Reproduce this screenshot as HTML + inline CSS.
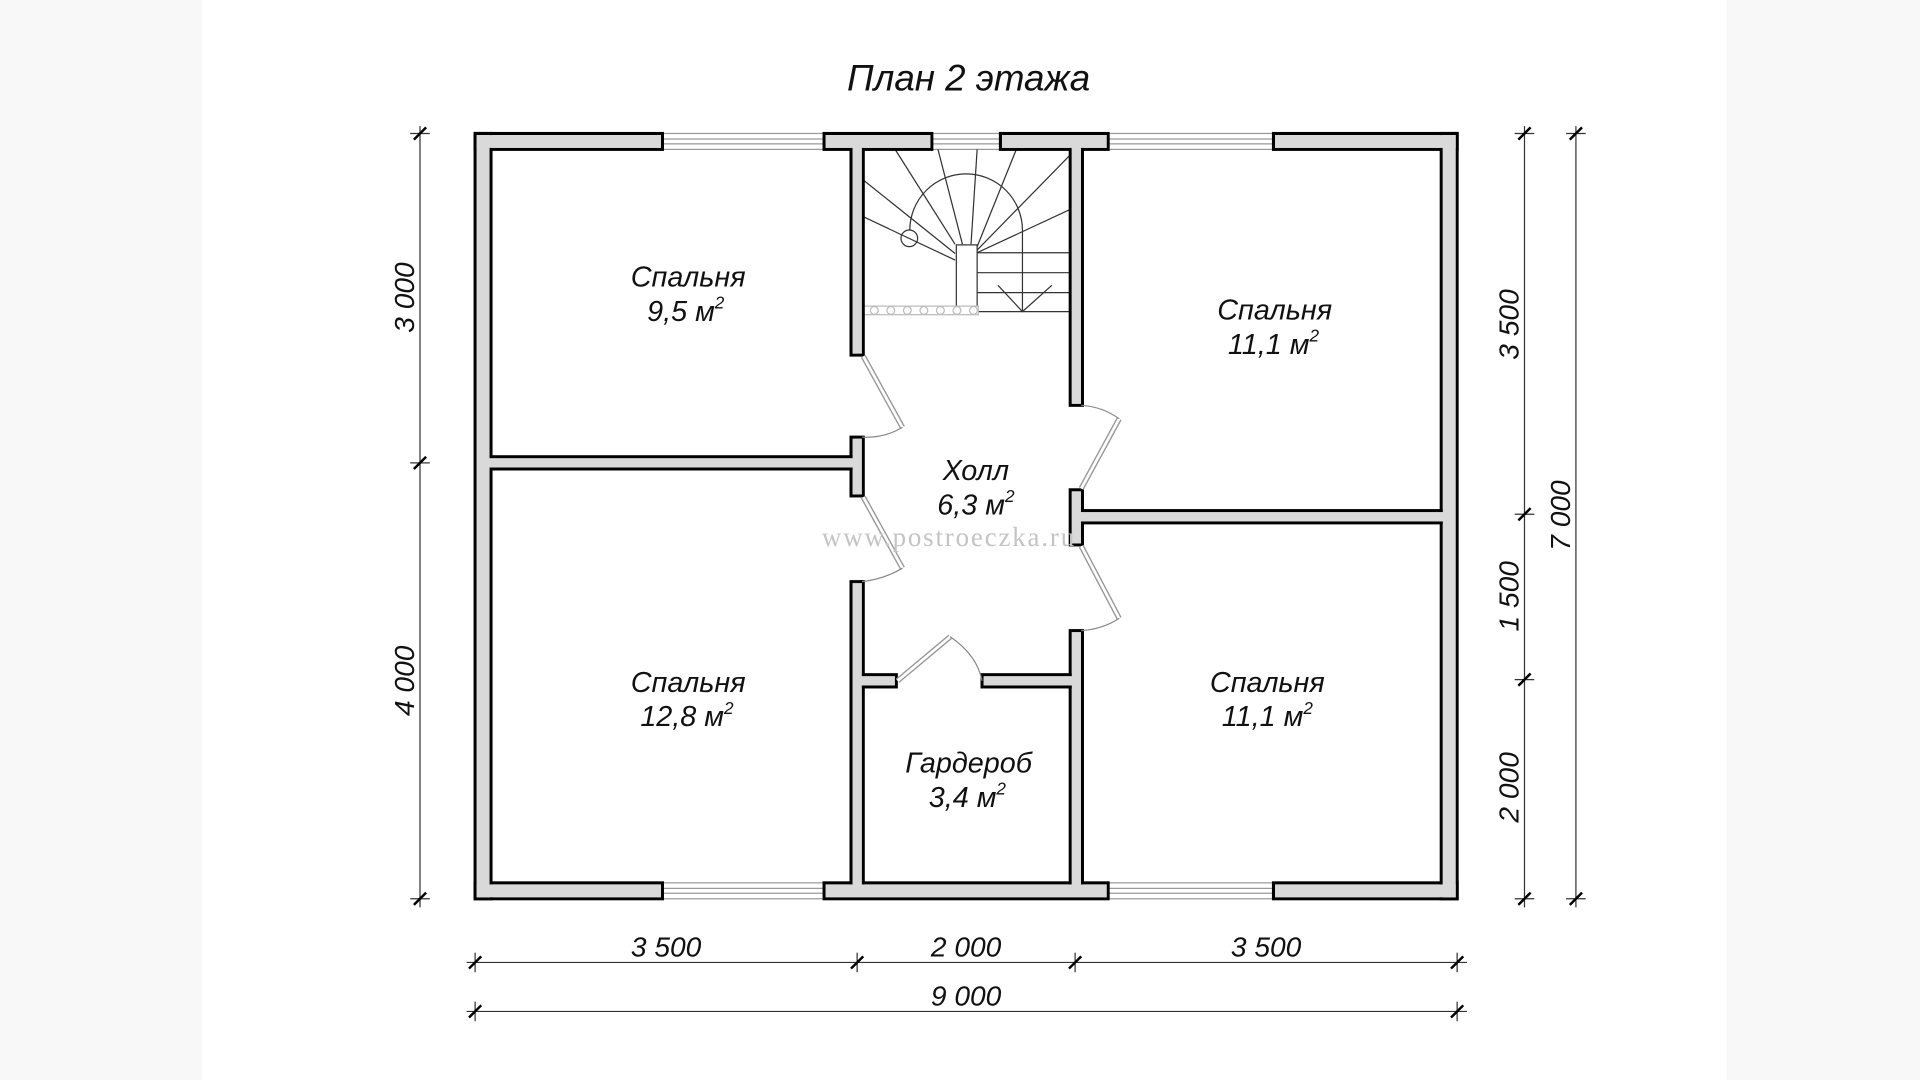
<!DOCTYPE html>
<html><head><meta charset="utf-8"><style>
html,body{margin:0;padding:0;background:#f8f8f8;}
svg{display:block;}
text{font-family:"Liberation Sans",Arial,sans-serif;font-style:italic;fill:#111;}
</style></head><body>
<svg width="1920" height="1080" viewBox="0 0 1568 882" xmlns="http://www.w3.org/2000/svg">
<rect x="0" y="0" width="1568" height="882" fill="#f8f8f8"/>
<rect x="165" y="0" width="1245" height="882" fill="#fff"/>

<text x="791" y="74" font-size="30" text-anchor="middle">План 2 этажа</text>

<!-- windows -->
<g fill="#fff" stroke="#999" stroke-width="1">
<rect x="541" y="109" width="132" height="13"/><line x1="541" y1="113.5" x2="673" y2="113.5"/><line x1="541" y1="117.5" x2="673" y2="117.5"/>
<rect x="761" y="109" width="56" height="13"/><line x1="761" y1="113.5" x2="817" y2="113.5"/><line x1="761" y1="117.5" x2="817" y2="117.5"/>
<rect x="905" y="109" width="135" height="13"/><line x1="905" y1="113.5" x2="1040" y2="113.5"/><line x1="905" y1="117.5" x2="1040" y2="117.5"/>
<rect x="541" y="721" width="132" height="13"/><line x1="541" y1="725.5" x2="673" y2="725.5"/><line x1="541" y1="729.5" x2="673" y2="729.5"/>
<rect x="905" y="721" width="135" height="13"/><line x1="905" y1="725.5" x2="1040" y2="725.5"/><line x1="905" y1="729.5" x2="1040" y2="729.5"/>
</g>

<!-- stairs -->
<g stroke="#333" stroke-width="1" fill="none">
<rect x="781" y="200" width="17" height="50" fill="#fff"/>
<path d="M743 188 A46 46 0 0 1 835 188 L835 254.5"/>
<line x1="798" y1="206.4" x2="874" y2="206.4"/>
<line x1="798" y1="222.7" x2="874" y2="222.7"/>
<line x1="798" y1="239" x2="874" y2="239"/>
<line x1="798" y1="254.5" x2="874" y2="254.5"/>
<polyline points="815,233 835,254.5 859,233"/>
<line x1="731" y1="122" x2="780" y2="199.5"/>
<line x1="766" y1="122" x2="786" y2="199.5"/>
<line x1="798" y1="122" x2="793" y2="199.5"/>
<line x1="830" y1="122" x2="798" y2="201.4"/>
<line x1="874" y1="126.5" x2="798" y2="204.2"/>
<line x1="874" y1="171" x2="798" y2="206.4"/>
<line x1="705" y1="147" x2="780" y2="207"/>
<line x1="705" y1="177" x2="780" y2="212.4"/>
<circle cx="742.6" cy="194.6" r="6.8" fill="none"/>
</g>
<g stroke="#bbb" stroke-width="1" fill="#fff">
<rect x="705" y="250" width="94" height="7"/>
<circle cx="714" cy="253.5" r="3.2"/><circle cx="727.5" cy="253.5" r="3.2"/><circle cx="741" cy="253.5" r="3.2"/><circle cx="754.5" cy="253.5" r="3.2"/><circle cx="768" cy="253.5" r="3.2"/><circle cx="781.5" cy="253.5" r="3.2"/><circle cx="795" cy="253.5" r="3.2"/>
</g>

<!-- walls: stroke layer -->
<g fill="#d9d9d9" stroke="#000" stroke-width="2.5">
<rect x="388" y="109" width="153" height="13"/>
<rect x="673" y="109" width="88" height="13"/>
<rect x="817" y="109" width="88" height="13"/>
<rect x="1040" y="109" width="150" height="13"/>
<rect x="388" y="721" width="153" height="13"/>
<rect x="673" y="721" width="232" height="13"/>
<rect x="1040" y="721" width="150" height="13"/>
<rect x="388" y="109" width="13" height="625"/>
<rect x="1177" y="109" width="13" height="625"/>
<rect x="695" y="119" width="10" height="171"/>
<rect x="695" y="357" width="10" height="48"/>
<rect x="695" y="475" width="10" height="249"/>
<rect x="398" y="373" width="300" height="10"/>
<rect x="874" y="119" width="10" height="212"/>
<rect x="874" y="400" width="10" height="45"/>
<rect x="874" y="515" width="10" height="209"/>
<rect x="881" y="417" width="299" height="10"/>
<rect x="702" y="551" width="30" height="10"/>
<rect x="802" y="551" width="75" height="10"/>
</g>
<g fill="#d9d9d9">
<rect x="389.3" y="110.3" width="150.5" height="10.5"/>
<rect x="674.3" y="110.3" width="85.5" height="10.5"/>
<rect x="818.3" y="110.3" width="85.5" height="10.5"/>
<rect x="1041.3" y="110.3" width="147.5" height="10.5"/>
<rect x="389.3" y="722.3" width="150.5" height="10.5"/>
<rect x="674.3" y="722.3" width="229.5" height="10.5"/>
<rect x="1041.3" y="722.3" width="147.5" height="10.5"/>
<rect x="389.3" y="110.3" width="10.5" height="622.5"/>
<rect x="1178.3" y="110.3" width="10.5" height="622.5"/>
<rect x="696.3" y="120.3" width="7.5" height="168.5"/>
<rect x="696.3" y="358.3" width="7.5" height="45.5"/>
<rect x="696.3" y="476.3" width="7.5" height="246.5"/>
<rect x="399.3" y="374.3" width="297.5" height="7.5"/>
<rect x="875.3" y="120.3" width="7.5" height="209.5"/>
<rect x="875.3" y="401.3" width="7.5" height="42.5"/>
<rect x="875.3" y="516.3" width="7.5" height="206.5"/>
<rect x="882.3" y="418.3" width="296.5" height="7.5"/>
<rect x="703.3" y="552.3" width="27.5" height="7.5"/>
<rect x="803.3" y="552.3" width="72.5" height="7.5"/>
</g>

<!-- doors -->
<g fill="none">
<g stroke="#999" stroke-width="4.5">
<line x1="705" y1="291" x2="737" y2="349"/>
<line x1="705" y1="406" x2="737" y2="464"/>
<line x1="883" y1="399" x2="914" y2="342"/>
<line x1="883" y1="446" x2="914" y2="505"/>
<line x1="733" y1="556" x2="776" y2="520"/>
</g>
<g stroke="#fff" stroke-width="2.2">
<line x1="705" y1="291" x2="737" y2="349"/>
<line x1="705" y1="406" x2="737" y2="464"/>
<line x1="883" y1="399" x2="914" y2="342"/>
<line x1="883" y1="446" x2="914" y2="505"/>
<line x1="733" y1="556" x2="776" y2="520"/>
</g>
<g stroke="#888" stroke-width="1">
<path d="M737 349 Q722 358 704 357"/>
<path d="M737 464 Q722 473 704 475"/>
<path d="M914 342 Q900 332 883 331"/>
<path d="M914 505 Q900 514 883 515"/>
<path d="M776 520 Q798 535 802 556"/>
</g>
</g>

<!-- watermark -->
<text x="775" y="446" font-size="22" text-anchor="middle" font-family="Liberation Serif" style="font-family:'Liberation Serif',serif;font-style:normal;fill:#c4c4c4;letter-spacing:1.5px">www.postroeczka.ru</text>

<!-- room labels -->
<g font-size="23.5" text-anchor="middle">
<text x="562" y="234">Спальня</text><text x="560" y="262">9,5 м<tspan dy="-10" font-size="14">2</tspan></text>
<text x="1041" y="261">Спальня</text><text x="1040" y="289">11,1 м<tspan dy="-10" font-size="14">2</tspan></text>
<text x="797" y="392">Холл</text><text x="797" y="420">6,3 м<tspan dy="-10" font-size="14">2</tspan></text>
<text x="562" y="565">Спальня</text><text x="561" y="593">12,8 м<tspan dy="-10" font-size="14">2</tspan></text>
<text x="1035" y="565">Спальня</text><text x="1035" y="593">11,1 м<tspan dy="-10" font-size="14">2</tspan></text>
<text x="791" y="631">Гардероб</text><text x="790" y="659">3,4 м<tspan dy="-10" font-size="14">2</tspan></text>
</g>

<!-- dimension lines -->
<g stroke="#333" stroke-width="1">
<line x1="343" y1="103" x2="343" y2="741"/>
<line x1="1245" y1="103" x2="1245" y2="741"/>
<line x1="1287" y1="103" x2="1287" y2="741"/>
<line x1="381" y1="786" x2="1198" y2="786"/>
<line x1="381" y1="826" x2="1198" y2="826"/>
<line x1="335" y1="109" x2="351" y2="109"/><line x1="335" y1="378" x2="351" y2="378"/><line x1="335" y1="734" x2="351" y2="734"/>
<line x1="1237" y1="109" x2="1253" y2="109"/><line x1="1237" y1="420" x2="1253" y2="420"/><line x1="1237" y1="555" x2="1253" y2="555"/><line x1="1237" y1="734" x2="1253" y2="734"/>
<line x1="1279" y1="109" x2="1295" y2="109"/><line x1="1279" y1="734" x2="1295" y2="734"/>
<line x1="388" y1="778" x2="388" y2="794"/><line x1="700" y1="778" x2="700" y2="794"/><line x1="878" y1="778" x2="878" y2="794"/><line x1="1190" y1="778" x2="1190" y2="794"/>
<line x1="388" y1="818" x2="388" y2="834"/><line x1="1190" y1="818" x2="1190" y2="834"/>
</g>
<g stroke="#000" stroke-width="2">
<line x1="338" y1="114" x2="348" y2="104"/><line x1="338" y1="383" x2="348" y2="373"/><line x1="338" y1="739" x2="348" y2="729"/>
<line x1="1240" y1="114" x2="1250" y2="104"/><line x1="1240" y1="425" x2="1250" y2="415"/><line x1="1240" y1="560" x2="1250" y2="550"/><line x1="1240" y1="739" x2="1250" y2="729"/>
<line x1="1282" y1="114" x2="1292" y2="104"/><line x1="1282" y1="739" x2="1292" y2="729"/>
<line x1="383" y1="791" x2="393" y2="781"/><line x1="695" y1="791" x2="705" y2="781"/><line x1="873" y1="791" x2="883" y2="781"/><line x1="1185" y1="791" x2="1195" y2="781"/>
<line x1="383" y1="831" x2="393" y2="821"/><line x1="1185" y1="831" x2="1195" y2="821"/>
</g>
<g font-size="23" text-anchor="middle">
<text x="544" y="781">3 500</text>
<text x="789" y="781">2 000</text>
<text x="1034" y="781">3 500</text>
<text x="789" y="821">9 000</text>
<text transform="translate(338,243) rotate(-90)">3 000</text>
<text transform="translate(338,556) rotate(-90)">4 000</text>
<text transform="translate(1240,265) rotate(-90)">3 500</text>
<text transform="translate(1240,487) rotate(-90)">1 500</text>
<text transform="translate(1240,643) rotate(-90)">2 000</text>
<text transform="translate(1282,421) rotate(-90)">7 000</text>
</g>
</svg>
</body></html>
